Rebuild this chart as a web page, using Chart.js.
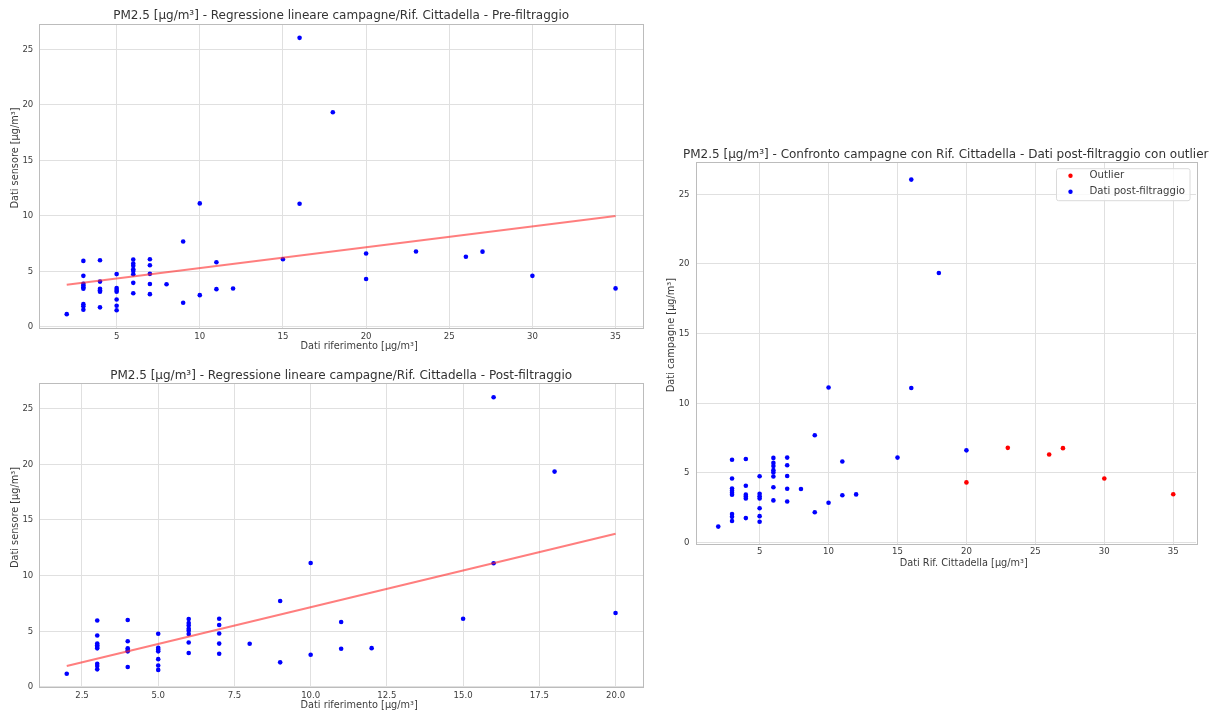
<!DOCTYPE html>
<html>
<head>
<meta charset="utf-8">
<title>PM2.5 - Regressione lineare campagne/Rif. Cittadella</title>
<script src="https://cdn.jsdelivr.net/npm/chart.js@4.4.1/dist/chart.umd.min.js"></script>
<style>
    html, body { margin: 0; padding: 0; background: #ffffff; overflow: hidden; }
    .panel { position: absolute; }
</style>
</head>
<body>
<div class="panel" style="left:0px;top:0px;width:650px;height:355px"><canvas id="chart_pre"></canvas></div>
<div class="panel" style="left:0px;top:355px;width:650px;height:358px"><canvas id="chart_post"></canvas></div>
<div class="panel" style="left:655px;top:140px;width:565px;height:432px"><canvas id="chart_outlier"></canvas></div>
<script>
// Points kept after filtering: x = Rif. Cittadella, y = campagne (µg/m³)
var postX = [2, 3, 3, 3, 3, 3, 3, 3, 3, 3, 4, 4, 4, 4, 4, 4, 5, 5, 5, 5, 5, 5, 5,
    6, 6, 6, 6, 6, 6, 6, 6, 7, 7, 7, 7, 7, 8, 9, 9, 10, 10, 11, 11, 12, 15, 16, 16, 18, 20];
var postY = [1.15, 5.95, 4.6, 3.88, 3.73, 3.58, 3.44, 2.05, 1.85, 1.55, 6.0, 4.08, 3.44, 3.3, 3.17, 1.76,
    4.76, 3.5, 3.33, 3.17, 2.47, 1.9, 1.5, 6.08, 5.72, 5.5, 5.2, 5.03, 4.74, 3.97, 3.03,
    6.1, 5.55, 4.78, 3.87, 2.95, 3.85, 7.7, 2.18, 11.13, 2.86, 5.82, 3.4, 3.46, 6.1, 26.05, 11.1, 19.35, 6.62];

// Points removed by the filter
var outlierX = [20, 23, 26, 27, 30, 35];
var outlierY = [4.32, 6.8, 6.32, 6.78, 4.6, 3.47];

// Regression lines, end points
var preLineX = [2, 35];
var preLineY = [3.8, 10.0];
var postLineX = [2, 20];
var postLineY = [1.85, 13.75];

// Tick labels
var preTicksX = [5, 10, 15, 20, 25, 30, 35];
var postTicksX = [2.5, 5.0, 7.5, 10.0, 12.5, 15.0, 17.5, 20.0];
var outlierTicksX = [5, 10, 15, 20, 25, 30, 35];
var ticksY = [0, 5, 10, 15, 20, 25];

var TICK_FONT = '"DejaVu Sans Condensed", "DejaVu Sans", sans-serif';
var FONT = '"DejaVu Sans", sans-serif';
var TEXT_COLOR = '#3c3c3c';

function toPoints(xs, ys) {
    var pts = [];
    for (var i = 0; i < xs.length; i++) {
        pts.push({x: xs[i], y: ys[i]});
    }
    return pts;
}

// Draws the frame, the titles and the boxed legend the way matplotlib does.
var mplLook = {
    id: 'mplLook',
    beforeDatasetsDraw: function (chart) {
        var ctx = chart.ctx, a = chart.chartArea;
        ctx.save();
        ctx.strokeStyle = '#bcbcbc';
        ctx.lineWidth = 1;
        ctx.strokeRect(Math.round(a.left) + 0.5, Math.round(a.top) + 0.5,
            Math.round(a.right - a.left), Math.round(a.bottom - a.top));
        ctx.restore();
    },
    afterDraw: function (chart, args, opts) {
        var ctx = chart.ctx, a = chart.chartArea;
        var cx = (a.left + a.right) / 2, cy = (a.top + a.bottom) / 2;
        ctx.save();
        ctx.fillStyle = '#333333';
        ctx.textAlign = 'center';
        ctx.textBaseline = 'middle';
        ctx.font = '12px ' + FONT;
        ctx.fillText(opts.title, cx, a.top - opts.titleGap);

        ctx.fillStyle = TEXT_COLOR;
        ctx.font = '9.75px ' + FONT;
        ctx.fillText(opts.xLabel, cx + 18, a.bottom + opts.xLabelGap);

        ctx.save();
        ctx.translate(a.left - opts.yLabelGap, cy - 18);
        ctx.rotate(-Math.PI / 2);
        ctx.fillText(opts.yLabel, 0, 0);
        ctx.restore();

        if (opts.legend) {
            var items = chart.data.datasets;
            ctx.font = '10.2px ' + FONT;
            var w = 0;
            for (var i = 0; i < items.length; i++) {
                w = Math.max(w, ctx.measureText(items[i].label).width);
            }
            var boxW = 33 + w + 5, boxH = 32;
            var x0 = a.right - 6 - boxW, y0 = a.top + 6.5;
            ctx.fillStyle = 'rgba(255,255,255,0.8)';
            ctx.strokeStyle = '#dadada';
            ctx.lineWidth = 1;
            ctx.beginPath();
            ctx.roundRect(x0, y0, boxW, boxH, 2);
            ctx.fill();
            ctx.stroke();
            ctx.textAlign = 'left';
            for (var j = 0; j < items.length; j++) {
                var ly = y0 + 7 + j * 16;
                ctx.fillStyle = items[j].backgroundColor;
                ctx.beginPath();
                ctx.arc(x0 + 14, ly, 2.2, 0, Math.PI * 2);
                ctx.fill();
                ctx.fillStyle = TEXT_COLOR;
                ctx.fillText(items[j].label, x0 + 33, ly);
            }
        }
        ctx.restore();
    }
};

function axis(min, max, tickValues, size, fitKey, tickPadding, fmt) {
    return {
        type: 'linear',
        min: min,
        max: max,
        border: {display: false},
        grid: {color: '#e0e0e0', lineWidth: 1, drawTicks: false},
        ticks: {
            color: TEXT_COLOR,
            padding: tickPadding,
            font: {family: TICK_FONT, size: 9.5},
            callback: function (v) { return fmt ? v.toFixed(1) : String(v); }
        },
        afterBuildTicks: function (scale) {
            scale.ticks = tickValues.map(function (v) { return {value: v}; });
        },
        afterFit: function (scale) {
            scale[fitKey] = size;
        }
    };
}

// Creates one scatter panel with the given datasets and frame settings.
function createChart(id, datasets, cfg) {
    var ctx = document.getElementById(id).getContext('2d');
    return new Chart(ctx, {
        type: 'scatter',
        data: {datasets: datasets},
        options: {
            responsive: true,
            maintainAspectRatio: false,
            animation: false,
            events: [],
            layout: {padding: cfg.padding},
            elements: {point: {radius: 2.3, borderWidth: 0, hoverRadius: 2.3}},
            scales: {
                x: axis(cfg.xMin, cfg.xMax, cfg.xTicks, cfg.xAxisHeight, 'height', cfg.xTickPad, cfg.xFixed),
                y: axis(-0.1, 27.3, ticksY, cfg.yAxisWidth, 'width', 6, false)
            },
            plugins: {
                legend: {display: false},
                tooltip: {enabled: false},
                mplLook: cfg.text
            }
        },
        plugins: [mplLook]
    });
}

function regressionLine(xs, ys) {
    return {
        type: 'line',
        label: 'Regressione',
        data: toPoints(xs, ys),
        borderColor: 'rgba(255, 40, 40, 0.6)',
        backgroundColor: 'rgba(255, 40, 40, 0.6)',
        borderWidth: 2,
        pointRadius: 0,
        showLine: true,
        order: 0
    };
}

createChart('chart_pre', [
    regressionLine(preLineX, preLineY),
    {label: 'Dati', data: toPoints(postX.concat(outlierX), postY.concat(outlierY)),
        backgroundColor: '#0000ff', order: 1}
], {
    padding: {top: 24, right: 7, left: 0, bottom: 0},
    xMin: 0.35, xMax: 36.65, xTicks: preTicksX, xFixed: false,
    xAxisHeight: 27, yAxisWidth: 39.3, xTickPad: 3,
    text: {
        title: 'PM2.5 [µg/m³] - Regressione lineare campagne/Rif. Cittadella - Pre-filtraggio',
        xLabel: 'Dati riferimento [µg/m³]', yLabel: 'Dati sensore [µg/m³]',
        titleGap: 8, xLabelGap: 18.5, yLabelGap: 24, legend: false
    }
});

createChart('chart_post', [
    regressionLine(postLineX, postLineY),
    {label: 'Dati', data: toPoints(postX, postY), backgroundColor: '#0000ff', order: 1}
], {
    padding: {top: 28.3, right: 7, left: 0, bottom: 0},
    xMin: 1.1, xMax: 20.9, xTicks: postTicksX, xFixed: true,
    xAxisHeight: 25.3, yAxisWidth: 39.3, xTickPad: 2.5,
    text: {
        title: 'PM2.5 [µg/m³] - Regressione lineare campagne/Rif. Cittadella - Post-filtraggio',
        xLabel: 'Dati riferimento [µg/m³]', yLabel: 'Dati sensore [µg/m³]',
        titleGap: 7.5, xLabelGap: 18, yLabelGap: 24, legend: false
    }
});

createChart('chart_outlier', [
    {label: 'Outlier', data: toPoints(outlierX, outlierY), backgroundColor: '#ff0000', order: 1},
    {label: 'Dati post-filtraggio', data: toPoints(postX, postY), backgroundColor: '#0000ff', order: 0}
], {
    padding: {top: 22.2, right: 24, left: 0, bottom: 0},
    xMin: 0.35, xMax: 36.65, xTicks: outlierTicksX, xFixed: false,
    xAxisHeight: 28, yAxisWidth: 40.5, xTickPad: 2,
    text: {
        title: 'PM2.5 [µg/m³] - Confronto campagne con Rif. Cittadella - Dati post-filtraggio con outlier',
        xLabel: 'Dati Rif. Cittadella [µg/m³]', yLabel: 'Dati campagne [µg/m³]',
        titleGap: 7.5, xLabelGap: 19.5, yLabelGap: 24.5, legend: true
    }
});
</script>
</body>
</html>
